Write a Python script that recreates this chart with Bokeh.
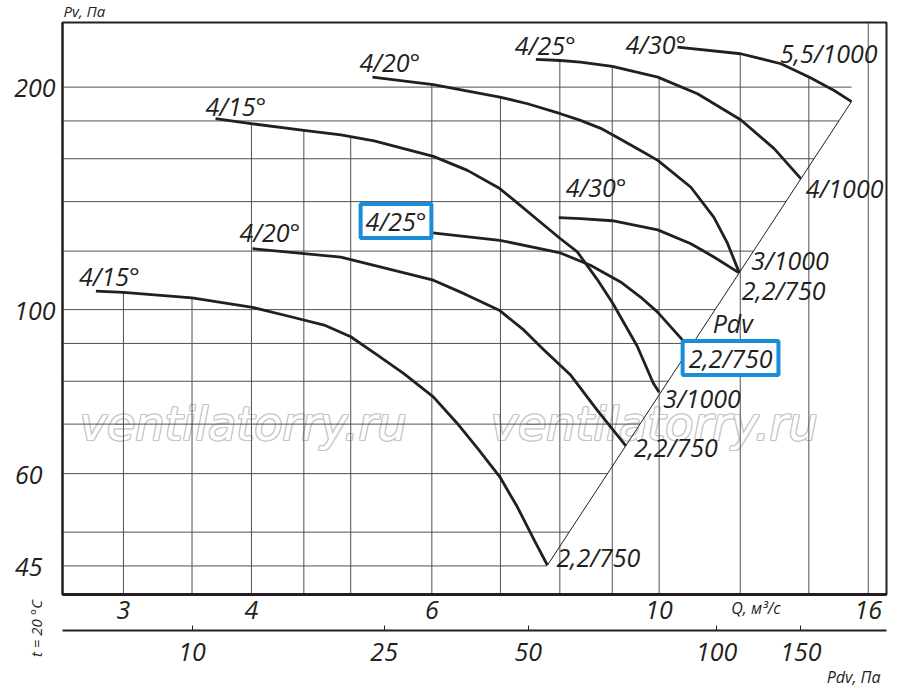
import numpy as np
from bokeh.core.properties import value
from bokeh.embed import file_html
from bokeh.models import FixedTicker, Label, LogAxis, PrintfTickFormatter, Range1d
from bokeh.plotting import figure
from bokeh.resources import INLINE

# Fan curves: air flow Q (m3/s) against pressure Pv (Pa).
# 750 rpm motors (2,2 kW)
q_15_750 = [2.82, 3.00, 3.50, 4.01, 4.37, 4.71, 5.00, 5.31, 5.63, 6.02, 6.35, 6.65, 6.99, 7.27, 7.55, 7.78]
pv_15_750 = [105.9, 105.5, 103.7, 100.7, 97.8, 95.3, 91.9, 86.8, 82.0, 76.2, 70.2, 64.9, 59.4, 54.1, 48.8, 45.1]
q_20_750 = [4.01, 4.89, 6.02, 6.45, 6.99, 7.38, 7.72, 8.20, 8.70, 9.28]
pv_20_750 = [120.9, 117.8, 109.6, 105.1, 99.7, 93.8, 88.2, 81.5, 73.1, 65.4]
q_25_750 = [5.89, 6.99, 8.01, 8.57, 9.17, 9.59, 9.96, 10.50, 10.71]
pv_25_750 = [127.4, 124.1, 119.3, 114.8, 109.0, 104.0, 99.3, 91.5, 88.7]
q_30_750 = [7.98, 8.38, 9.00, 9.97, 10.74, 11.31, 11.96]
pv_30_750 = [133.2, 132.8, 131.9, 128.2, 122.8, 117.8, 112.2]
# 1000 rpm motors
q_15_1000 = [3.69, 4.01, 4.50, 4.89, 5.27, 6.02, 6.50, 6.99, 7.24, 7.66, 8.00, 8.32, 8.70,
             9.01, 9.52, 9.87, 10.00]
pv_15_1000 = [181.3, 178.4, 174.8, 172.4, 169.2, 161.2, 154.3, 145.8, 140.1, 131.3, 124.9,
              119.7, 109.9, 102.0, 89.2, 79.5, 77.3]
q_20_1000 = [5.25, 6.02, 6.99, 7.44, 8.01, 8.38, 8.77, 9.17, 9.59, 9.97, 10.74, 11.31, 11.66, 11.97]
pv_20_1000 = [206.3, 201.5, 193.9, 189.9, 184.1, 180.3, 175.9, 170.0, 164.2, 159.2, 146.4,
              133.3, 123.0, 112.3]
q_25_1000 = [7.58, 8.01, 8.38, 9.00, 9.97, 10.90, 12.01, 12.95, 13.75]
pv_25_1000 = [218.0, 217.3, 216.2, 213.3, 206.3, 195.9, 180.7, 165.1, 150.4]
q_30_1000 = [10.42, 12.01, 13.15, 14.02, 14.82, 15.41]
pv_30_1000 = [226.5, 221.9, 215.1, 206.3, 197.9, 191.2]

# axes
q_ticks = [3, 4, 6, 10, 16]
pv_ticks = [45, 60, 100, 200]
grid_q = [3, 3.5, 4, 4.5, 5, 6, 7, 8, 9, 10, 12, 14, 16]
grid_pv = [45, 50, 60, 70, 80, 90, 100, 120, 140, 160, 180, 200]
# dynamic pressure scale under the Q axis, and the Q where each tick sits
pdv_ticks = [10, 25, 50, 100, 150]
pdv_tick_q = [3.50, 5.39, 7.45, 11.38, 13.75]

INK = "#231f20"
GRID = "#505050"
BLUE = "#1a8cd8"
FONT = "Open Sans"
BIG = "25px"

q_lo, q_hi = 2.616, 16.67
pv_lo, pv_hi = 41.17, 244.6

p = figure(frame_width=824, frame_height=572, x_axis_type="log", y_axis_type="log",
           x_range=Range1d(q_lo, q_hi), y_range=Range1d(pv_lo, pv_hi),
           output_backend="svg", toolbar_location=None,
           min_border_left=62, min_border_right=14, min_border_top=22, min_border_bottom=95)
p.xgrid.visible = False
p.ygrid.visible = False
p.outline_line_color = INK
p.outline_line_width = 2

curves = [
    # q, pv, start label, offset, end label, offset  (offsets in px: right, down)
    (q_15_750, pv_15_750, "4/15°", (-17, -15), "2,2/750", (9, -8)),
    (q_20_750, pv_20_750, "4/20°", (-13, -17), "2,2/750", (8, 1)),
    (q_25_750, pv_25_750, None, None, None, None),
    (q_30_750, pv_30_750, "4/30°", (7, -31), "2,2/750", (3, 17)),
    (q_15_1000, pv_15_1000, "4/15°", (-10, -13), "3/1000", (4, 6)),
    (q_20_1000, pv_20_1000, "4/20°", (-13, -15), "3/1000", (12, -12)),
    (q_25_1000, pv_25_1000, "4/25°", (-21, -14), "4/1000", (5, 9)),
    (q_30_1000, pv_30_1000, "4/30°", (-52, -3), None, None),
]


def pv_at(qs, pvs, q):
    return 10 ** np.interp(np.log10(q), np.log10(qs), np.log10(pvs))


# watermark, drawn under everything
for wq in (2.72, 6.85):
    for dx, dy in [(-1, -1), (-1, 0), (-1, 1), (0, -1), (0, 1), (1, -1), (1, 0), (1, 1)]:
        p.add_layout(Label(x=wq, y=70.0, x_offset=dx, y_offset=dy, text="ventilatorry.ru",
                           text_font="DejaVu Sans", text_font_style="italic",
                           text_font_size="46px", text_color="#c4c4c4",
                           text_baseline="middle", level="underlay"))
    p.add_layout(Label(x=wq, y=70.0, text="ventilatorry.ru", text_font="DejaVu Sans",
                       text_font_style="italic", text_font_size="46px",
                       text_color="white", text_baseline="middle", level="underlay"))

# vertical grid lines stop at the highest curve
tops = []
for q in grid_q:
    hits = [pv_at(c[0], c[1], q) for c in curves if c[0][0] <= q <= c[0][-1]]
    tops.append(max(hits) if hits else pv_hi)
p.segment(x0=grid_q, y0=[pv_lo] * len(grid_q), x1=grid_q, y1=tops,
          line_color=GRID, line_width=1)

# Pdv line through the ends of the curves; horizontal grid stops on it
diag_q = [q_15_750[-1], q_30_1000[-1]]
diag_pv = [pv_15_750[-1], pv_30_1000[-1]]
slope = np.log10(diag_pv[1] / diag_pv[0]) / np.log10(diag_q[1] / diag_q[0])
ends = [min(diag_q[0] * (v / diag_pv[0]) ** (1 / slope), diag_q[1]) for v in grid_pv]
p.segment(x0=[q_lo] * len(grid_pv), y0=grid_pv, x1=ends, y1=grid_pv,
          line_color=GRID, line_width=1)
p.line(diag_q, diag_pv, line_color=INK, line_width=1)

for qs, pvs, *_ in curves:
    p.line(qs, pvs, line_color=INK, line_width=2.8, line_join="round")


def label(x, y, text, dx=0, dy=0, size=BIG, align="left", **kw):
    p.add_layout(Label(x=x, y=y, text=text, x_offset=dx, y_offset=-dy,
                       text_font=FONT, text_font_style="italic", text_font_size=size,
                       text_color=INK, text_align=align, text_baseline="middle", **kw))


for qs, pvs, s_txt, s_off, e_txt, e_off in curves:
    if s_txt:
        label(qs[0], pvs[0], s_txt, *s_off)
    if e_txt:
        label(qs[-1], pvs[-1], e_txt, *e_off)
label(q_30_1000[-1], pv_30_1000[-1], "5,5/1000", 26, -49, align="right")

boxed = dict(border_line_color=BLUE, border_line_width=4, background_fill_color="white")
label(q_25_750[0], pv_25_750[0], "4/25°", -63, -11, padding=(5, 0), **boxed)
label(q_25_750[-1], pv_25_750[-1], "2,2/750", -7, 10, padding=(6, 0), **boxed)
label(11.28, 95.9, "Pdv")

# Pv axis, labels left aligned like the original
ya = p.yaxis[0]
ya.ticker = FixedTicker(ticks=pv_ticks)
ya.major_label_overrides = {v: str(v) + "\u00a0" * (3 - len(str(v))) * 2 for v in pv_ticks}
ya.major_tick_in = ya.major_tick_out = 0
ya.axis_line_color = INK
ya.axis_line_width = 2
ya.major_label_standoff = 7
ya.major_label_text_font = FONT
ya.major_label_text_font_style = "italic"
ya.major_label_text_font_size = BIG
ya.major_label_text_color = INK

# Q axis
xa = p.xaxis[0]
xa.ticker = FixedTicker(ticks=q_ticks)
xa.formatter = PrintfTickFormatter(format="%d")
xa.major_tick_in = xa.major_tick_out = 0
xa.axis_line_width = 3
xa.axis_line_color = INK
xa.major_label_standoff = 6
xa.major_label_text_font = FONT
xa.major_label_text_font_style = "italic"
xa.major_label_text_font_size = BIG
xa.major_label_text_color = INK
xa.axis_label = "\u00a0"
xa.axis_label_text_font_size = "5px"
xa.axis_label_standoff = 0

# Pdv axis below it
pa = LogAxis(ticker=FixedTicker(ticks=pdv_tick_q),
             major_label_overrides={q: str(v) for q, v in zip(pdv_tick_q, pdv_ticks)})
pa.major_tick_in = 5
pa.major_tick_out = 0
pa.major_tick_line_color = INK
pa.axis_line_width = 2
pa.axis_line_color = INK
pa.major_label_standoff = 12
pa.major_label_text_font = FONT
pa.major_label_text_font_style = "italic"
pa.major_label_text_font_size = BIG
pa.major_label_text_color = INK
p.add_layout(pa, "below")

# texts outside the frame, as overlay glyphs
small = dict(text_font=value(FONT), text_font_style="italic", text_color=INK,
             text_baseline="middle", level="overlay")
p.text(x=[q_lo], y=[pv_hi], text=["Pv, Па"], x_offset=1, y_offset=-12,
       text_font_size="15px", text_align="left", **small)
p.text(x=[12.43], y=[pv_lo], text=["Q, м³/с"], y_offset=13,
       text_font_size="16px", text_align="center", **small)
p.text(x=[q_hi], y=[pv_lo], text=["Pdv, Па"], x_offset=-6, y_offset=82,
       text_font_size="16px", text_align="right", **small)
p.text(x=[q_lo], y=[pv_lo], text=["t = 20 °C"], x_offset=-27, y_offset=34, angle=np.pi / 2,
       text_font_size="15px", text_align="center", **small)

open("out.html", "w").write(file_html(p, INLINE))
